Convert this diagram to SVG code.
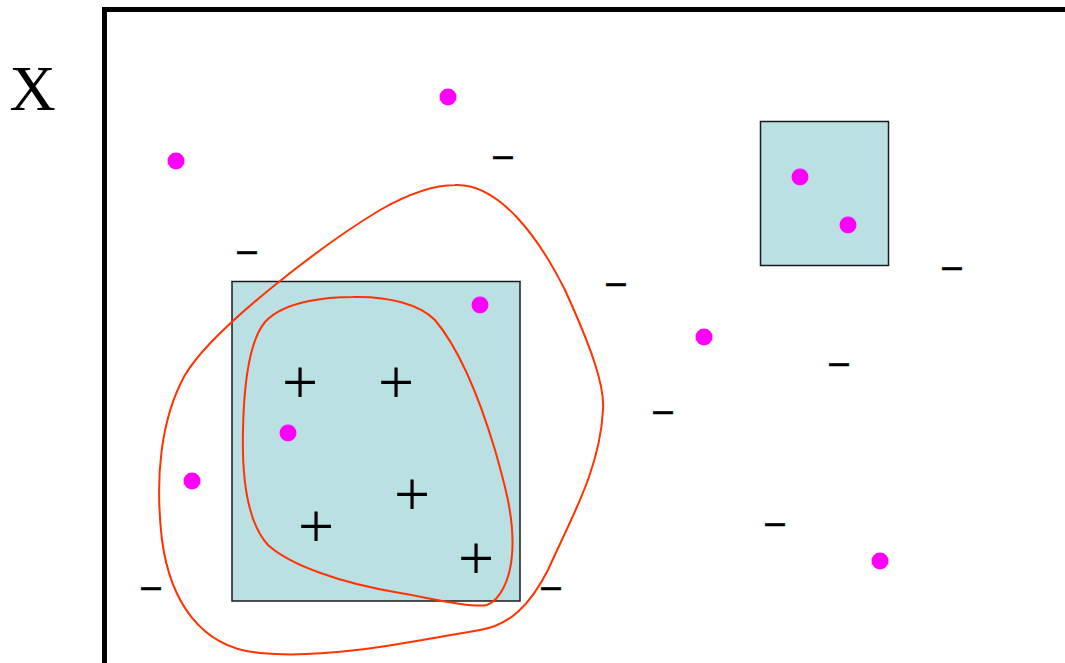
<svg xmlns="http://www.w3.org/2000/svg" width="1065" height="663" viewBox="0 0 1065 663">
<style>
.box{fill:#BBE0E3;stroke:#1a1a1a;stroke-width:1.5}
.dot{fill:#FF00FF}
.curve{fill:none;stroke:#FF3300;stroke-width:2}
.plus{font-family:"Liberation Serif",serif;font-size:64px;fill:#000;text-anchor:middle}
.minus{font-family:"Liberation Sans",sans-serif;font-size:35px;fill:#000;stroke:#000;stroke-width:0.6;text-anchor:middle}
.lbl{font-family:"Liberation Serif",serif;font-size:64px;fill:#000;text-anchor:middle}
</style>
<rect width="1065" height="663" fill="#fff"/>
<path d="M104.5,663 V9.5 H1065" fill="none" stroke="#000" stroke-width="5"/>
<text class="lbl" x="32.5" y="110">X</text>
<g id="box-large"><rect class="box" x="232" y="281.5" width="288" height="319.5"/></g>
<g id="box-small"><rect class="box" x="760.5" y="121.5" width="128" height="144"/></g>
<g id="curves">
<path id="outer" class="curve" d="M455,185 C500,183 540,240 565,290 C590,345 605,385 603,410 C600,470 570,520 548,570 C530,605 510,625 480,630 C420,640 330,660 260,653 C200,648 170,600 162,540 C155,480 160,420 185,375 C215,325 330,240 380,210 C410,193 435,185 455,185 Z"/>
<path id="inner" class="curve" d="M353,297 C390,296 420,305 435,320 C460,350 480,400 495,450 C505,485 515,520 512,555 C510,580 500,600 487,605 C470,608 430,598 400,593 C340,583 290,565 268,545 C245,520 242,470 243,430 C244,380 250,340 265,322 C285,300 330,297 353,297 Z"/>
</g>
<g id="dots">
<circle class="dot" cx="176" cy="161" r="8.5"/>
<circle class="dot" cx="448" cy="97" r="8.5"/>
<circle class="dot" cx="800" cy="177" r="8.5"/>
<circle class="dot" cx="848" cy="225" r="8.5"/>
<circle class="dot" cx="480" cy="305" r="8.5"/>
<circle class="dot" cx="704" cy="337" r="8.5"/>
<circle class="dot" cx="288" cy="433" r="8.5"/>
<circle class="dot" cx="192" cy="481" r="8.5"/>
<circle class="dot" cx="880" cy="561" r="8.5"/>
</g>
<g id="pluses">
<text class="plus" x="300" y="404">+</text>
<text class="plus" x="396" y="404">+</text>
<text class="plus" x="412" y="516">+</text>
<text class="plus" x="316" y="548">+</text>
<text class="plus" x="476" y="580">+</text>
</g>
<g id="minuses">
<text class="minus" x="503" y="167">–</text>
<text class="minus" x="247" y="262">–</text>
<text class="minus" x="616" y="294">–</text>
<text class="minus" x="952" y="278">–</text>
<text class="minus" x="839" y="374">–</text>
<text class="minus" x="663" y="422">–</text>
<text class="minus" x="775" y="534">–</text>
<text class="minus" x="151" y="598">–</text>
<text class="minus" x="551" y="598">–</text>
</g>
</svg>
